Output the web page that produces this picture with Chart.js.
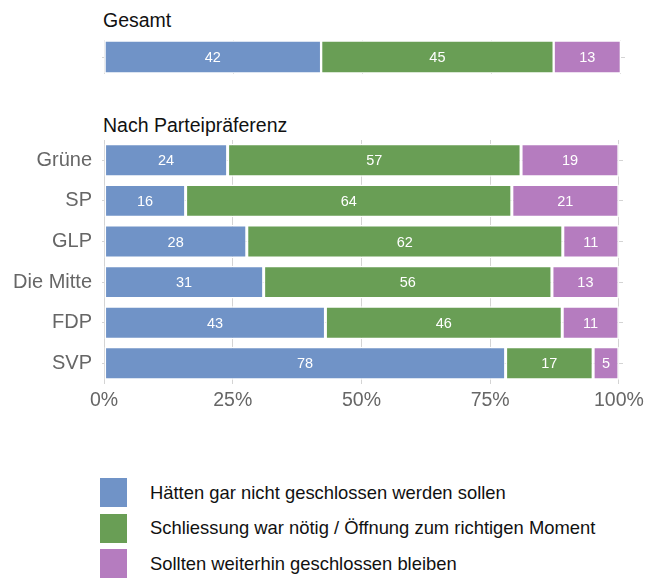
<!DOCTYPE html>
<html>
<head>
  <meta charset="UTF-8">
  <title>Schliessung</title>
  <script src="https://cdn.jsdelivr.net/npm/chart.js"></script>
  <style>
    body { margin: 0; background: #fff; font-family: Helvetica, Arial, "Liberation Sans", sans-serif; }
    #page { position: relative; width: 649px; height: 578px; overflow: hidden; }
    .title { position: absolute; left: 103px; font-size: 19.5px; color: #111; }
    canvas { position: absolute; left: 0; }
    .leg { position: absolute; left: 100px; height: 29px; display: flex; align-items: center; }
    .leg span.box { width: 27px; height: 29px; display: inline-block; }
    .leg span.txt { margin-left: 23px; font-size: 18.4px; color: #111; white-space: nowrap; }
  </style>
</head>
<body>
<div id="page">
  <div class="title" style="top:9px;">Gesamt</div>
  <canvas id="totalChart" width="649" height="100" style="top:0;"></canvas>
  <div class="title" style="top:114px;">Nach Parteipräferenz</div>
  <canvas id="partyChart" width="649" height="280" style="top:139px;"></canvas>
  <div id="legend"></div>
</div>
<script>
  // data
  const seriesNames = [
    "Hätten gar nicht geschlossen werden sollen",
    "Schliessung war nötig / Öffnung zum richtigen Moment",
    "Sollten weiterhin geschlossen bleiben"
  ];
  const seriesColors = ["#7093c7", "#699e55", "#b57cbf"];

  const totalLabel = ["Gesamt"];
  const totalNotClosed = [42];
  const totalNecessary = [45];
  const totalStayClosed = [13];

  const parties = ["Grüne", "SP", "GLP", "Die Mitte", "FDP", "SVP"];
  const partyNotClosed = [24, 16, 28, 31, 43, 78];
  const partyNecessary = [57, 64, 62, 56, 46, 17];
  const partyStayClosed = [19, 21, 11, 13, 11, 5];

  const xTicks = [0, 25, 50, 75, 100];

  const FONT = 'Helvetica, Arial, "Liberation Sans", sans-serif';

  // draws the printed value in the middle of each bar segment
  const barLabels = {
    id: "barLabels",
    afterDatasetsDraw(chart) {
      const ctx = chart.ctx;
      ctx.save();
      ctx.fillStyle = "#fff";
      ctx.font = "14.5px " + FONT;
      ctx.textAlign = "center";
      ctx.textBaseline = "middle";
      chart.data.datasets.forEach((ds, i) => {
        chart.getDatasetMeta(i).data.forEach((bar, j) => {
          ctx.fillText(String(ds.printed[j]), (bar.x + bar.base) / 2, bar.y + 1);
        });
      });
      ctx.restore();
    }
  };

  // stacked to 100% of each row (rounded numbers may add up to 101)
  function makeDatasets(values, barPct) {
    const totals = values[0].map((_, j) => values.reduce((s, v) => s + v[j], 0));
    return values.map((vals, i) => ({
      label: seriesNames[i],
      data: vals.map((v, j) => v / totals[j] * 100),
      printed: vals,
      backgroundColor: seriesColors[i],
      borderColor: "#fff",
      borderWidth: 1.5,
      borderSkipped: false,
      barPercentage: barPct,
      categoryPercentage: 1
    }));
  }

  function xScale(showLabels) {
    return {
      stacked: true,
      min: -0.4,
      max: 100.8,
      afterBuildTicks: (axis) => { axis.ticks = xTicks.map(v => ({ value: v })); },
      border: { display: false },
      grid: { color: "#d4d4d4", drawTicks: false },
      ticks: {
        display: showLabels,
        padding: 5,
        color: "#666",
        font: { family: FONT, size: 19.5 },
        callback: (v) => v + "%",
        maxRotation: 0
      },
      afterFit: showLabels ? (s) => { s.height = 35.4; } : (s) => { s.height = 0; }
    };
  }

  function yScale(width, showLabels) {
    return {
      stacked: true,
      border: { display: false },
      grid: { offset: false, color: "#d4d4d4", drawTicks: false },
      ticks: { display: showLabels, padding: 10, color: "#666", font: { family: FONT, size: 20 } },
      afterFit: (s) => {
        s.width = width;
        s.paddingTop = 0;
        s.paddingBottom = 0;
      }
    };
  }

  function baseOptions() {
    return {
      indexAxis: "y",
      responsive: false,
      animation: false,
      devicePixelRatio: 1,
      plugins: { legend: { display: false }, tooltip: { enabled: false } }
    };
  }

  // Gesamt
  const opt1 = baseOptions();
  opt1.layout = { padding: { left: 102, right: 24, top: 40.5, bottom: 26.5 } };
  opt1.scales = { x: xScale(false), y: yScale(0, false) };
  new Chart(document.getElementById("totalChart"), {
    type: "bar",
    data: {
      labels: totalLabel,
      datasets: makeDatasets([totalNotClosed, totalNecessary, totalStayClosed], 1)
    },
    options: opt1,
    plugins: [barLabels]
  });

  // Nach Parteipräferenz
  const opt2 = baseOptions();
  opt2.layout = { padding: { left: 0, right: 24, top: 1, bottom: 0 } };
  opt2.scales = { x: xScale(true), y: yScale(102, true) };
  new Chart(document.getElementById("partyChart"), {
    type: "bar",
    data: {
      labels: parties,
      datasets: makeDatasets([partyNotClosed, partyNecessary, partyStayClosed], 0.81)
    },
    options: opt2,
    plugins: [barLabels]
  });

  // legend
  const legend = document.getElementById("legend");
  seriesNames.forEach((name, i) => {
    const row = document.createElement("div");
    row.className = "leg";
    row.style.top = (478 + i * 35.5) + "px";
    const box = document.createElement("span");
    box.className = "box";
    box.style.background = seriesColors[i];
    const txt = document.createElement("span");
    txt.className = "txt";
    txt.textContent = name;
    row.appendChild(box);
    row.appendChild(txt);
    legend.appendChild(row);
  });
</script>
</body>
</html>
